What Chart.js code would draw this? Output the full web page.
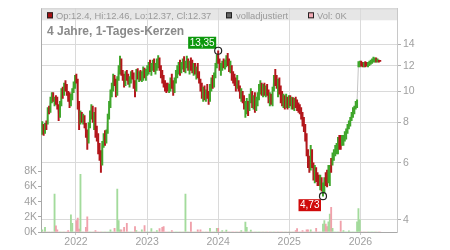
<!DOCTYPE html>
<html><head><meta charset="utf-8">
<script src="https://cdn.jsdelivr.net/npm/chart.js@4/dist/chart.umd.min.js"></script>
<style>html,body{margin:0;padding:0;background:#fff;}canvas{display:block;}</style>
</head><body>
<canvas id="c" width="450" height="250"></canvas>
<script>
// ---- data (weekly bars) ----
const firstWeek = '2021-07-12';
const lows = [
 7.35,7.3,7.4,7.6,7.9,8.5,8.6,9.2,9.3,9.0,
 9.1,8.8,8.1,8.3,9.0,9.5,9.7,10.0,9.7,9.3,
 8.9,9.0,9.4,9.9,10.2,10.6,8.8,7.6,7.9,8.0,
 7.9,7.7,7.2,6.6,6.9,7.7,8.2,8.0,7.6,7.2,
 7.0,6.4,6.1,5.6,5.9,6.7,6.8,6.9,7.4,8.2,
 8.9,9.6,10.0,10.4,9.6,9.7,10.8,11.3,11.2,10.8,
 10.3,10.4,10.8,10.5,10.3,10.6,10.9,10.2,9.6,10.0,
 10.9,10.7,10.8,10.7,10.8,11.0,10.8,11.2,11.3,11.5,
 11.2,11.6,11.5,11.3,11.6,11.8,11.6,11.0,10.6,10.3,
 10.0,9.9,10.0,9.9,10.0,10.2,9.7,9.9,10.6,11.0,
 11.3,11.2,11.4,11.7,11.5,11.4,11.8,11.6,11.3,11.6,
 11.4,11.2,11.3,10.9,11.0,10.6,10.0,9.5,9.3,9.4,
 9.3,9.5,9.1,9.3,10.0,10.2,10.3,11.0,11.8,12.2,
 11.6,11.2,11.6,11.8,11.7,11.9,12.0,11.5,11.4,10.8,
 10.6,10.4,10.0,10.2,10.0,9.5,9.3,9.2,8.8,8.3,
 8.5,8.4,8.7,9.2,8.9,8.8,8.6,8.7,9.0,9.4,
 9.8,9.7,9.6,9.7,9.6,9.7,9.2,9.0,9.1,9.0,
 10.0,10.4,10.2,9.6,9.8,9.2,9.0,8.9,8.8,8.9,
 8.8,8.9,9.0,8.8,8.8,8.7,8.9,8.7,8.6,8.5,
 8.2,7.8,7.5,7.0,6.3,5.8,5.6,5.7,5.8,5.3,
 5.2,5.25,5.1,5.1,4.95,4.9,4.73,4.85,5.1,5.05,
 5.2,5.1,5.6,5.9,6.1,6.3,6.4,6.4,6.6,6.6,
 6.8,6.8,7.0,7.1,7.4,7.65,7.8,8.1,8.3,8.5,
 8.8,8.9,11.9,11.9,11.95,11.9,11.9,11.9,11.95,11.9,
 12.0,12.1,12.2,12.3,12.3,12.3,12.3,12.3,12.37
];
const highs = [
 8.05,7.9,7.95,8.1,8.9,9.0,9.6,9.9,9.9,9.6,
 9.7,9.6,9.1,9.3,10.2,10.3,10.6,10.8,10.5,10.0,
 9.9,9.8,10.2,10.7,11.2,11.3,10.9,9.3,8.7,8.6,
 8.5,8.4,7.95,7.6,8.0,8.7,9.1,9.0,8.6,8.9,
 7.8,7.4,6.9,6.55,7.0,7.4,7.55,7.6,8.5,9.3,
 10.1,10.6,11.3,11.2,10.9,11.1,12.0,12.85,12.6,11.6,
 11.3,11.5,11.6,11.3,11.1,11.5,11.6,11.4,10.8,11.7,
 11.75,11.5,11.6,11.5,11.9,11.8,11.7,12.0,12.3,12.5,
 12.2,12.5,12.6,12.2,12.6,12.9,12.7,12.0,11.6,11.2,
 10.8,10.6,10.6,10.5,11.0,11.3,10.8,11.0,11.6,12.0,
 12.3,12.5,12.3,12.6,12.8,12.4,12.85,12.6,12.4,12.7,
 12.5,12.2,12.2,11.9,12.2,11.5,10.9,10.6,10.3,10.4,
 10.1,10.5,10.0,10.5,11.0,11.2,11.4,12.2,13.0,13.35,
 12.6,12.2,12.4,12.6,12.5,12.9,13.1,12.6,12.4,12.0,
 11.5,11.3,11.0,11.2,10.8,10.4,10.2,10.0,9.7,9.3,
 9.5,9.3,9.8,10.2,10.0,9.7,9.9,9.6,9.9,10.5,
 10.8,10.6,10.5,10.6,10.4,10.5,10.1,9.9,9.8,10.3,
 11.2,11.7,11.2,10.9,11.0,10.4,10.0,9.8,9.7,9.8,
 9.6,9.7,9.7,9.6,9.55,9.5,9.6,9.4,9.2,9.1,
 8.9,8.6,8.3,7.9,7.4,6.6,6.3,6.8,6.6,6.0,
 5.9,5.8,5.6,5.5,5.5,5.4,5.2,5.4,5.6,5.7,
 5.9,5.9,6.2,6.45,6.6,6.8,6.9,7.2,7.3,7.3,
 7.3,7.3,7.5,7.65,7.9,8.1,8.3,8.6,8.9,9.0,
 9.3,9.4,12.35,12.4,12.4,12.3,12.3,12.35,12.3,12.3,
 12.4,12.5,12.6,12.75,12.7,12.7,12.6,12.5,12.46
];
const closes = [
 7.6,7.5,7.85,7.7,8.75,8.7,9.4,9.7,9.3,9.45,
 9.3,9.0,8.4,9.1,9.9,9.8,10.4,10.2,9.9,9.5,
 9.1,9.6,10.0,10.5,10.9,10.8,9.0,8.2,8.4,8.1,
 8.3,7.8,7.4,7.0,7.8,8.5,8.9,8.2,8.4,7.5,
 7.2,6.7,6.3,6.0,6.8,7.1,7.0,7.4,8.3,9.1,
 9.9,10.4,11.0,10.6,9.9,10.9,11.8,12.4,11.5,11.0,
 10.6,11.2,11.0,10.7,10.9,11.3,11.1,10.4,10.1,11.4,
 11.1,11.3,10.9,11.2,11.6,11.2,11.5,11.8,12.1,11.8,
 12.0,12.3,11.8,12.0,12.4,12.6,11.9,11.3,10.9,10.5,
 10.3,10.2,10.1,10.3,10.8,10.4,10.0,10.7,11.4,11.7,
 12.1,11.6,12.1,12.3,11.9,12.2,12.5,11.9,12.2,12.0,
 11.8,12.0,11.5,11.6,11.3,10.8,10.2,9.8,10.0,9.6,
 9.9,9.7,9.4,10.3,10.7,10.5,11.2,12.0,12.8,12.5,
 11.8,11.9,12.2,12.0,12.3,12.7,12.4,11.8,12.1,11.1,
 10.9,10.7,10.3,10.5,10.1,9.7,9.9,9.4,9.0,9.1,
 9.2,8.7,9.5,9.9,9.2,9.4,8.9,9.3,9.6,10.2,
 10.5,9.9,10.3,10.0,10.2,9.9,9.4,9.6,9.3,10.1,
 11.0,10.8,10.4,10.5,10.0,9.5,9.3,9.5,9.1,9.4,
 9.0,9.5,9.2,9.4,9.0,9.3,9.1,8.9,8.8,8.7,
 8.4,8.0,7.7,7.2,6.5,6.0,5.9,6.4,6.0,5.5,
 5.6,5.4,5.3,5.2,5.3,5.0,5.05,5.3,5.2,5.15,
 5.4,5.8,5.7,6.3,6.4,6.6,6.7,7.0,6.8,6.7,
 6.9,7.2,7.3,7.5,7.8,7.9,8.2,8.5,8.7,8.8,
 9.1,9.3,12.1,12.2,12.1,12.0,12.2,12.1,12.0,12.2,
 12.3,12.4,12.5,12.5,12.6,12.4,12.5,12.4,12.37
];
const volumes = [
 300,0,600,0,0,0,0,0,0,5000,
 800,300,0,0,0,0,0,0,0,200,
 0,2250,1150,0,0,1500,1850,400,7600,0,
 0,0,600,2000,0,0,0,0,0,200,
 0,0,0,0,0,0,0,0,0,0,
 300,0,0,500,0,5650,1500,300,300,0,
 600,0,1150,0,0,0,0,0,700,200,
 0,0,0,300,0,850,0,0,0,0,
 450,0,0,0,200,0,450,0,600,700,
 0,0,0,0,0,200,0,0,0,0,
 0,0,0,0,0,5000,0,0,0,1300,
 0,0,0,0,300,0,300,0,0,0,
 0,0,0,500,0,0,0,0,500,500,
 0,0,200,0,0,250,0,0,0,0,
 0,0,0,0,0,0,200,0,0,1300,
 600,0,0,250,0,0,0,0,0,0,
 0,0,0,0,0,0,0,0,0,0,
 0,0,0,0,0,0,0,0,0,0,
 0,0,0,0,0,0,200,450,0,0,
 0,200,0,0,300,300,0,300,0,0,
 0,500,0,0,0,0,1050,1500,1050,700,
 1350,2350,3250,500,0,0,0,0,0,1450,
 0,200,0,0,0,150,0,0,0,0,
 0,1350,3100,1600,0,0,0,0,0,0,
 0,0,0,0,0,0,0,0,0
];
const lastOpen = 12.4;
const yearTicks = [2022, 2023, 2024, 2025, 2026];
const priceTicks = [4, 6, 8, 10, 12, 14];
const volumeTicks = [0, 2000, 4000, 6000, 8000];
const titleText = '4 Jahre, 1-Tages-Kerzen';
const legendAdjusted = 'volladjustiert';

// ---- helpers ----
function decYear(ms){ const d=new Date(ms); const y=d.getUTCFullYear(); const s=Date.UTC(y,0,1), e=Date.UTC(y+1,0,1); return y+(ms-s)/(e-s); }
const t0 = Date.parse(firstWeek+'T00:00:00Z');
const xs = lows.map((_,i)=>decYear(t0 + i*7*864e5));
const up = closes.map((c,i)=> i===0 ? true : c >= closes[i-1]);
const RED='#b3161b', GREEN='#3fa62b';
const candleData = lows.map((l,i)=>({x:xs[i], y:[l, highs[i]]}));
const closeData = closes.map((c,i)=>({x:xs[i], y:c}));
const volData = volumes.map((v,i)=>({x:xs[i], y:v}));
const FONT = "'Liberation Sans', Arial, sans-serif";
Chart.defaults.font.family = FONT;

const last = lows.length-1;
const fmt = v => v.toFixed(2).replace('.', ',');

const overlay = {
  id:'overlay',
  beforeDraw(chart){
    const {ctx, chartArea:a} = chart;
    ctx.save();
    ctx.fillStyle='#e6e6e6';
    ctx.fillRect(a.left, a.top, a.right-a.left, 12);
    ctx.restore();
  },
  afterDraw(chart){
    const {ctx, chartArea:a, scales} = chart;
    ctx.save();
    ctx.strokeStyle='#cfcfcf'; ctx.lineWidth=1;
    ctx.beginPath(); ctx.moveTo(a.left, a.top+0.5); ctx.lineTo(a.right, a.top+0.5); ctx.stroke();
    const ly = a.top+4;
    function sq(x, col){ ctx.fillStyle=col; ctx.fillRect(x, ly, 6, 6); ctx.strokeStyle='#222'; ctx.lineWidth=1; ctx.strokeRect(x+0.5, ly+0.5, 5, 5); }
    ctx.font = '9.4px '+FONT; ctx.textBaseline='alphabetic';
    sq(a.left+6, '#a80f12');
    ctx.fillStyle='#9a9a9a';
    ctx.fillText('Op:'+lastOpen+', Hi:'+highs[last]+', Lo:'+lows[last]+', Cl:'+closes[last], a.left+15, a.top+10.5);
    sq(a.left+185, '#666666');
    ctx.fillStyle='#9a9a9a';
    ctx.fillText(legendAdjusted, a.left+195, a.top+10.5);
    sq(a.left+267, '#f2a9b4');
    ctx.fillStyle='#9a9a9a';
    ctx.fillText('Vol: '+Math.round(volumes[last]/1000)+'K', a.left+276, a.top+10.5);
    ctx.font = 'bold 12px '+FONT; ctx.fillStyle='#8a8a8a';
    ctx.fillText(titleText, a.left+6, a.top+27);
    let hi=0, lo=0;
    highs.forEach((v,i)=>{ if(v>highs[hi]) hi=i; });
    lows.forEach((v,i)=>{ if(v<lows[lo]) lo=i; });
    const X=scales.x, Y=scales.yP;
    ctx.font = '10px '+FONT; ctx.textBaseline='middle';
    function marker(i, val, col, above){
      const px=X.getPixelForValue(xs[i]), py=Y.getPixelForValue(val);
      const txt=fmt(val); const w=ctx.measureText(txt).width+3; const h=12;
      const bx = px-2-w; const by = above ? py-2-h : py+3;
      ctx.fillStyle=col; ctx.fillRect(bx, by, w, h);
      ctx.fillStyle='#fff'; ctx.textAlign='left'; ctx.fillText(txt, bx+1.5, by+h/2+0.5);
      ctx.beginPath(); ctx.arc(px, py, 3.5, 0, Math.PI*2); ctx.strokeStyle='#222'; ctx.lineWidth=1.2; ctx.stroke();
    }
    marker(hi, highs[hi], '#0c980c', true);
    marker(lo, lows[lo], '#d00a0a', false);
    ctx.restore();
  }
};

new Chart(document.getElementById('c'), {
  data:{
    datasets:[
      {type:'bar', data:candleData, xAxisID:'x', yAxisID:'yP', backgroundColor:up.map(u=>u?GREEN:RED), barThickness:1.3, grouped:false, borderWidth:0, order:1},
      {type:'line', data:closeData, xAxisID:'x', yAxisID:'yP', borderColor:'#c4c4c4', borderWidth:1, pointRadius:0, tension:0, order:3},
      {type:'bar', data:volData, xAxisID:'x', yAxisID:'yV', backgroundColor:up.map(u=>u?'#a3db9c':'#f0a1ab'), barThickness:1.2, grouped:false, borderWidth:0, order:2}
    ]
  },
  options:{
    responsive:false, animation:false, events:[], devicePixelRatio:1,
    layout:{padding:{top:7, left:0, right:0, bottom:0}},
    plugins:{legend:{display:false}, tooltip:{enabled:false}, title:{display:false}},
    scales:{
      x:{type:'linear', position:'bottom', min:2021.508, max:2026.515, offset:false,
        afterBuildTicks:s=>{s.ticks=yearTicks.map(v=>({value:v}));},
        afterFit:s=>{s.height=18;},
        ticks:{callback:v=>String(v), color:'#a0a0a0', font:{size:10.5}, padding:1, maxRotation:0, autoSkip:false},
        grid:{color:'#dadada', tickLength:3, tickColor:'#c8c8c8', offset:false},
        border:{color:'#a8a8a8'}},
      yP:{type:'logarithmic', position:'right', min:3.664, max:18.07,
        afterBuildTicks:s=>{s.ticks=priceTicks.map(v=>({value:v}));},
        afterFit:s=>{s.width=53;},
        ticks:{callback:v=>String(v), color:'#a0a0a0', font:{size:10.5}, padding:2, autoSkip:false},
        grid:{color:'#dadada', tickLength:4, tickColor:'#b0b0b0'},
        border:{color:'#c8c8c8'}},
      yV:{type:'linear', position:'left', min:0, max:29500,
        afterBuildTicks:s=>{s.ticks=volumeTicks.map(v=>({value:v}));},
        afterFit:s=>{s.width=41;},
        ticks:{callback:v=>(v/1000)+'K', color:'#a0a0a0', font:{size:10.5}, padding:1, autoSkip:false},
        grid:{drawOnChartArea:false, tickLength:3, tickColor:'#a8a8a8'},
        border:{color:'#a8a8a8'}}
    }
  },
  plugins:[overlay]
});
</script>
</body></html>
